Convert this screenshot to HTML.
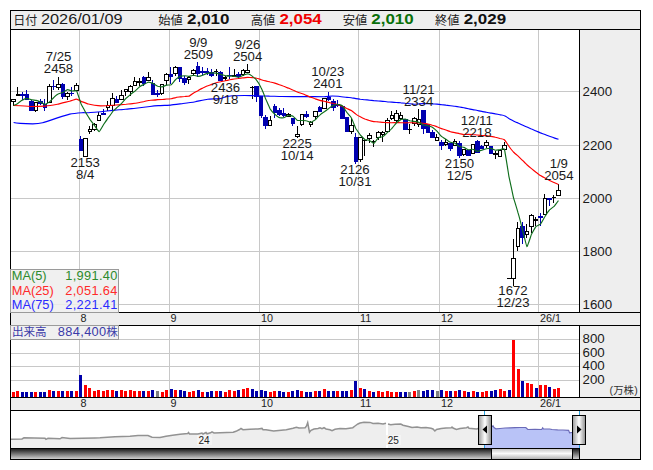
<!DOCTYPE html>
<html lang="ja"><head><meta charset="utf-8"><title>株価チャート</title>
<style>html,body{margin:0;padding:0;background:#fff}body{width:653px;height:470px;overflow:hidden}svg{display:block}text{font-family:"Liberation Sans","Noto Sans CJK JP",sans-serif}</style></head><body>
<svg width="653" height="470" viewBox="0 0 653 470">
<defs>
<linearGradient id="hg" x1="0" x2="1" y1="0" y2="0"><stop offset="0" stop-color="#9a9a9a"/><stop offset="0.5" stop-color="#ffffff"/><stop offset="1" stop-color="#8c8c8c"/></linearGradient>
<linearGradient id="tg" x1="0" x2="0" y1="0" y2="1"><stop offset="0" stop-color="#1e1e1e"/><stop offset="1" stop-color="#d0d0d0"/></linearGradient>
<linearGradient id="th" x1="0" x2="0" y1="0" y2="1"><stop offset="0" stop-color="#c8c8c8"/><stop offset="0.45" stop-color="#fafafa"/><stop offset="1" stop-color="#b4b4b4"/></linearGradient>
</defs>
<rect width="653" height="470" fill="#fff"/>
<g shape-rendering="crispEdges">
<rect x="10" y="10" width="631" height="20" fill="#eee"/>
<rect x="579" y="29" width="62" height="431" fill="#eee"/>
<rect x="10" y="312" width="631" height="14" fill="#eee"/>
<rect x="10" y="397" width="631" height="14" fill="#eee"/>
<rect x="79" y="30" width="1" height="282" fill="#c8c8c8"/>
<rect x="79" y="326" width="1" height="71" fill="#c8c8c8"/>
<rect x="169" y="30" width="1" height="282" fill="#c8c8c8"/>
<rect x="169" y="326" width="1" height="71" fill="#c8c8c8"/>
<rect x="259" y="30" width="1" height="282" fill="#c8c8c8"/>
<rect x="259" y="326" width="1" height="71" fill="#c8c8c8"/>
<rect x="358" y="30" width="1" height="282" fill="#c8c8c8"/>
<rect x="358" y="326" width="1" height="71" fill="#c8c8c8"/>
<rect x="439" y="30" width="1" height="282" fill="#c8c8c8"/>
<rect x="439" y="326" width="1" height="71" fill="#c8c8c8"/>
<rect x="538" y="30" width="1" height="282" fill="#c8c8c8"/>
<rect x="538" y="326" width="1" height="71" fill="#c8c8c8"/>
<rect x="11" y="91" width="568" height="1" fill="#c8c8c8"/>
<rect x="11" y="145" width="568" height="1" fill="#c8c8c8"/>
<rect x="11" y="198" width="568" height="1" fill="#c8c8c8"/>
<rect x="11" y="251" width="568" height="1" fill="#c8c8c8"/>
<rect x="11" y="304" width="568" height="1" fill="#c8c8c8"/>
<rect x="11" y="339" width="568" height="1" fill="#c8c8c8"/>
<rect x="11" y="353" width="568" height="1" fill="#c8c8c8"/>
<rect x="11" y="366" width="568" height="1" fill="#c8c8c8"/>
<rect x="11" y="380" width="568" height="1" fill="#c8c8c8"/>
</g>
<g shape-rendering="crispEdges">
<rect x="13" y="99" width="1" height="7" fill="#000"/>
<rect x="11" y="99" width="5" height="3" fill="#000"/>
<rect x="12" y="100" width="3" height="1" fill="#fff"/>
<rect x="17" y="87" width="1" height="9" fill="#000"/>
<rect x="16" y="94" width="4" height="2" fill="#000"/>
<rect x="22" y="92" width="1" height="8" fill="#0000b0"/>
<rect x="20" y="94" width="5" height="2" fill="#0000b0"/>
<rect x="26" y="90" width="1" height="10" fill="#0000b0"/>
<rect x="25" y="94" width="4" height="6" fill="#0000b0"/>
<rect x="31" y="100" width="1" height="11" fill="#0000b0"/>
<rect x="29" y="101" width="5" height="10" fill="#0000b0"/>
<rect x="35" y="102" width="1" height="10" fill="#000"/>
<rect x="34" y="102" width="4" height="9" fill="#000"/>
<rect x="35" y="103" width="2" height="7" fill="#fff"/>
<rect x="40" y="99" width="1" height="6" fill="#0000b0"/>
<rect x="38" y="101" width="5" height="3" fill="#0000b0"/>
<rect x="44" y="99" width="1" height="12" fill="#0000b0"/>
<rect x="43" y="104" width="4" height="4" fill="#0000b0"/>
<rect x="49" y="84" width="1" height="19" fill="#000"/>
<rect x="47" y="86" width="5" height="17" fill="#000"/>
<rect x="48" y="87" width="3" height="15" fill="#fff"/>
<rect x="53" y="80" width="1" height="10" fill="#0000b0"/>
<rect x="52" y="86" width="4" height="1" fill="#0000b0"/>
<rect x="58" y="77" width="1" height="13" fill="#000"/>
<rect x="56" y="84" width="5" height="4" fill="#000"/>
<rect x="57" y="85" width="3" height="2" fill="#fff"/>
<rect x="62" y="83" width="1" height="16" fill="#0000b0"/>
<rect x="61" y="84" width="4" height="13" fill="#0000b0"/>
<rect x="67" y="92" width="1" height="8" fill="#000"/>
<rect x="65" y="93" width="5" height="4" fill="#000"/>
<rect x="66" y="94" width="3" height="2" fill="#fff"/>
<rect x="71" y="87" width="1" height="9" fill="#0000b0"/>
<rect x="70" y="93" width="4" height="1" fill="#0000b0"/>
<rect x="76" y="83" width="1" height="8" fill="#000"/>
<rect x="74" y="85" width="5" height="6" fill="#000"/>
<rect x="75" y="86" width="3" height="4" fill="#fff"/>
<rect x="80" y="136" width="1" height="15" fill="#0000b0"/>
<rect x="79" y="139" width="4" height="12" fill="#0000b0"/>
<rect x="85" y="138" width="1" height="19" fill="#000"/>
<rect x="83" y="138" width="5" height="19" fill="#000"/>
<rect x="84" y="139" width="3" height="17" fill="#fff"/>
<rect x="89" y="126" width="1" height="8" fill="#000"/>
<rect x="88" y="129" width="4" height="3" fill="#000"/>
<rect x="89" y="130" width="2" height="1" fill="#fff"/>
<rect x="94" y="123" width="1" height="8" fill="#000"/>
<rect x="92" y="124" width="5" height="6" fill="#000"/>
<rect x="93" y="125" width="3" height="4" fill="#fff"/>
<rect x="98" y="112" width="1" height="9" fill="#000"/>
<rect x="97" y="115" width="4" height="6" fill="#000"/>
<rect x="98" y="116" width="2" height="4" fill="#fff"/>
<rect x="103" y="109" width="1" height="6" fill="#0000b0"/>
<rect x="101" y="113" width="5" height="2" fill="#0000b0"/>
<rect x="107" y="101" width="1" height="10" fill="#000"/>
<rect x="106" y="105" width="4" height="3" fill="#000"/>
<rect x="107" y="106" width="2" height="1" fill="#fff"/>
<rect x="112" y="93" width="1" height="17" fill="#000"/>
<rect x="110" y="98" width="5" height="8" fill="#000"/>
<rect x="111" y="99" width="3" height="6" fill="#fff"/>
<rect x="116" y="96" width="1" height="7" fill="#0000b0"/>
<rect x="115" y="99" width="4" height="4" fill="#0000b0"/>
<rect x="121" y="90" width="1" height="10" fill="#000"/>
<rect x="119" y="95" width="5" height="5" fill="#000"/>
<rect x="120" y="96" width="3" height="3" fill="#fff"/>
<rect x="125" y="89" width="1" height="7" fill="#000"/>
<rect x="124" y="89" width="4" height="3" fill="#000"/>
<rect x="125" y="90" width="2" height="1" fill="#fff"/>
<rect x="130" y="85" width="1" height="11" fill="#000"/>
<rect x="128" y="86" width="5" height="6" fill="#000"/>
<rect x="129" y="87" width="3" height="4" fill="#fff"/>
<rect x="134" y="77" width="1" height="9" fill="#000"/>
<rect x="133" y="81" width="4" height="5" fill="#000"/>
<rect x="134" y="82" width="2" height="3" fill="#fff"/>
<rect x="139" y="78" width="1" height="8" fill="#000"/>
<rect x="137" y="81" width="5" height="2" fill="#000"/>
<rect x="143" y="76" width="1" height="10" fill="#0000b0"/>
<rect x="142" y="77" width="4" height="7" fill="#0000b0"/>
<rect x="148" y="72" width="1" height="9" fill="#000"/>
<rect x="146" y="77" width="5" height="4" fill="#000"/>
<rect x="147" y="78" width="3" height="2" fill="#fff"/>
<rect x="152" y="80" width="1" height="15" fill="#0000b0"/>
<rect x="151" y="83" width="4" height="12" fill="#0000b0"/>
<rect x="157" y="90" width="1" height="7" fill="#0000b0"/>
<rect x="155" y="93" width="5" height="2" fill="#0000b0"/>
<rect x="161" y="84" width="1" height="11" fill="#000"/>
<rect x="160" y="84" width="4" height="10" fill="#000"/>
<rect x="161" y="85" width="2" height="8" fill="#fff"/>
<rect x="166" y="73" width="1" height="12" fill="#000"/>
<rect x="164" y="74" width="5" height="7" fill="#000"/>
<rect x="165" y="75" width="3" height="5" fill="#fff"/>
<rect x="170" y="67" width="1" height="17" fill="#0000b0"/>
<rect x="169" y="74" width="4" height="3" fill="#0000b0"/>
<rect x="175" y="66" width="1" height="10" fill="#000"/>
<rect x="173" y="67" width="5" height="7" fill="#000"/>
<rect x="174" y="68" width="3" height="5" fill="#fff"/>
<rect x="179" y="67" width="1" height="15" fill="#0000b0"/>
<rect x="178" y="67" width="4" height="12" fill="#0000b0"/>
<rect x="184" y="76" width="1" height="9" fill="#0000b0"/>
<rect x="182" y="78" width="5" height="5" fill="#0000b0"/>
<rect x="188" y="76" width="1" height="8" fill="#000"/>
<rect x="187" y="77" width="4" height="3" fill="#000"/>
<rect x="188" y="78" width="2" height="1" fill="#fff"/>
<rect x="193" y="69" width="1" height="7" fill="#000"/>
<rect x="191" y="70" width="5" height="4" fill="#000"/>
<rect x="192" y="71" width="3" height="2" fill="#fff"/>
<rect x="197" y="62" width="1" height="15" fill="#0000b0"/>
<rect x="196" y="66" width="4" height="8" fill="#0000b0"/>
<rect x="202" y="67" width="1" height="8" fill="#0000b0"/>
<rect x="200" y="71" width="5" height="2" fill="#0000b0"/>
<rect x="207" y="68" width="1" height="7" fill="#0000b0"/>
<rect x="205" y="71" width="4" height="2" fill="#0000b0"/>
<rect x="211" y="69" width="1" height="8" fill="#0000b0"/>
<rect x="209" y="72" width="5" height="4" fill="#0000b0"/>
<rect x="216" y="69" width="1" height="7" fill="#000"/>
<rect x="214" y="71" width="4" height="1" fill="#000"/>
<rect x="220" y="71" width="1" height="10" fill="#0000b0"/>
<rect x="218" y="72" width="5" height="9" fill="#0000b0"/>
<rect x="225" y="76" width="1" height="5" fill="#000"/>
<rect x="223" y="77" width="4" height="2" fill="#000"/>
<rect x="229" y="67" width="1" height="12" fill="#0000b0"/>
<rect x="227" y="75" width="5" height="1" fill="#0000b0"/>
<rect x="234" y="69" width="1" height="8" fill="#000"/>
<rect x="232" y="75" width="4" height="2" fill="#000"/>
<rect x="238" y="72" width="1" height="7" fill="#0000b0"/>
<rect x="236" y="74" width="5" height="3" fill="#0000b0"/>
<rect x="243" y="69" width="1" height="7" fill="#000"/>
<rect x="241" y="70" width="4" height="5" fill="#000"/>
<rect x="242" y="71" width="2" height="3" fill="#fff"/>
<rect x="247" y="64" width="1" height="9" fill="#000"/>
<rect x="245" y="70" width="5" height="3" fill="#000"/>
<rect x="246" y="71" width="3" height="1" fill="#fff"/>
<rect x="252" y="86" width="1" height="13" fill="#000"/>
<rect x="250" y="87" width="4" height="1" fill="#000"/>
<rect x="256" y="86" width="1" height="16" fill="#0000b0"/>
<rect x="254" y="86" width="5" height="11" fill="#0000b0"/>
<rect x="261" y="96" width="1" height="22" fill="#0000b0"/>
<rect x="259" y="96" width="4" height="20" fill="#0000b0"/>
<rect x="265" y="115" width="1" height="14" fill="#0000b0"/>
<rect x="263" y="117" width="5" height="9" fill="#0000b0"/>
<rect x="270" y="116" width="1" height="10" fill="#000"/>
<rect x="268" y="120" width="4" height="6" fill="#000"/>
<rect x="269" y="121" width="2" height="4" fill="#fff"/>
<rect x="274" y="104" width="1" height="14" fill="#0000b0"/>
<rect x="273" y="106" width="4" height="7" fill="#0000b0"/>
<rect x="279" y="108" width="1" height="8" fill="#0000b0"/>
<rect x="277" y="110" width="5" height="5" fill="#0000b0"/>
<rect x="283" y="108" width="1" height="9" fill="#0000b0"/>
<rect x="282" y="113" width="4" height="3" fill="#0000b0"/>
<rect x="288" y="113" width="1" height="4" fill="#000"/>
<rect x="286" y="114" width="5" height="3" fill="#000"/>
<rect x="287" y="115" width="3" height="1" fill="#fff"/>
<rect x="292" y="118" width="1" height="8" fill="#0000b0"/>
<rect x="291" y="118" width="4" height="6" fill="#0000b0"/>
<rect x="297" y="126" width="1" height="12" fill="#000"/>
<rect x="295" y="134" width="5" height="3" fill="#000"/>
<rect x="296" y="135" width="3" height="1" fill="#fff"/>
<rect x="301" y="114" width="1" height="12" fill="#000"/>
<rect x="300" y="114" width="4" height="11" fill="#000"/>
<rect x="301" y="115" width="2" height="9" fill="#fff"/>
<rect x="306" y="111" width="1" height="7" fill="#0000b0"/>
<rect x="304" y="114" width="5" height="3" fill="#0000b0"/>
<rect x="310" y="121" width="1" height="6" fill="#000"/>
<rect x="309" y="122" width="4" height="3" fill="#000"/>
<rect x="310" y="123" width="2" height="1" fill="#fff"/>
<rect x="315" y="111" width="1" height="8" fill="#000"/>
<rect x="313" y="111" width="5" height="6" fill="#000"/>
<rect x="314" y="112" width="3" height="4" fill="#fff"/>
<rect x="319" y="106" width="1" height="6" fill="#0000b0"/>
<rect x="318" y="107" width="4" height="5" fill="#0000b0"/>
<rect x="324" y="98" width="1" height="11" fill="#000"/>
<rect x="322" y="98" width="5" height="11" fill="#000"/>
<rect x="323" y="99" width="3" height="9" fill="#fff"/>
<rect x="328" y="92" width="1" height="9" fill="#0000b0"/>
<rect x="327" y="97" width="4" height="3" fill="#0000b0"/>
<rect x="333" y="99" width="1" height="12" fill="#0000b0"/>
<rect x="331" y="101" width="5" height="7" fill="#0000b0"/>
<rect x="337" y="100" width="1" height="7" fill="#0000b0"/>
<rect x="336" y="104" width="4" height="2" fill="#0000b0"/>
<rect x="342" y="106" width="1" height="13" fill="#0000b0"/>
<rect x="340" y="106" width="5" height="13" fill="#0000b0"/>
<rect x="346" y="117" width="1" height="15" fill="#0000b0"/>
<rect x="345" y="117" width="4" height="15" fill="#0000b0"/>
<rect x="351" y="118" width="1" height="16" fill="#000"/>
<rect x="349" y="125" width="5" height="7" fill="#000"/>
<rect x="350" y="126" width="3" height="5" fill="#fff"/>
<rect x="355" y="133" width="1" height="31" fill="#0000b0"/>
<rect x="354" y="137" width="4" height="25" fill="#0000b0"/>
<rect x="360" y="137" width="1" height="25" fill="#000"/>
<rect x="358" y="137" width="5" height="23" fill="#000"/>
<rect x="359" y="138" width="3" height="21" fill="#fff"/>
<rect x="364" y="140" width="1" height="16" fill="#000"/>
<rect x="363" y="140" width="4" height="1" fill="#000"/>
<rect x="369" y="133" width="1" height="10" fill="#000"/>
<rect x="367" y="135" width="5" height="4" fill="#000"/>
<rect x="368" y="136" width="3" height="2" fill="#fff"/>
<rect x="373" y="140" width="1" height="7" fill="#000"/>
<rect x="372" y="141" width="4" height="1" fill="#000"/>
<rect x="378" y="131" width="1" height="9" fill="#000"/>
<rect x="376" y="132" width="5" height="6" fill="#000"/>
<rect x="377" y="133" width="3" height="4" fill="#fff"/>
<rect x="382" y="131" width="1" height="11" fill="#000"/>
<rect x="381" y="132" width="4" height="3" fill="#000"/>
<rect x="382" y="133" width="2" height="1" fill="#fff"/>
<rect x="387" y="118" width="1" height="14" fill="#000"/>
<rect x="385" y="120" width="5" height="12" fill="#000"/>
<rect x="386" y="121" width="3" height="10" fill="#fff"/>
<rect x="391" y="111" width="1" height="9" fill="#000"/>
<rect x="390" y="115" width="4" height="4" fill="#000"/>
<rect x="391" y="116" width="2" height="2" fill="#fff"/>
<rect x="396" y="110" width="1" height="12" fill="#000"/>
<rect x="394" y="113" width="5" height="8" fill="#000"/>
<rect x="395" y="114" width="3" height="6" fill="#fff"/>
<rect x="400" y="112" width="1" height="8" fill="#000"/>
<rect x="399" y="115" width="4" height="4" fill="#000"/>
<rect x="400" y="116" width="2" height="2" fill="#fff"/>
<rect x="405" y="119" width="1" height="11" fill="#0000b0"/>
<rect x="403" y="119" width="5" height="11" fill="#0000b0"/>
<rect x="409" y="124" width="1" height="10" fill="#000"/>
<rect x="408" y="129" width="4" height="1" fill="#000"/>
<rect x="414" y="117" width="1" height="9" fill="#000"/>
<rect x="412" y="118" width="5" height="6" fill="#000"/>
<rect x="413" y="119" width="3" height="4" fill="#fff"/>
<rect x="418" y="109" width="1" height="18" fill="#000"/>
<rect x="417" y="119" width="4" height="6" fill="#000"/>
<rect x="418" y="120" width="2" height="4" fill="#fff"/>
<rect x="423" y="110" width="1" height="24" fill="#0000b0"/>
<rect x="421" y="110" width="5" height="19" fill="#0000b0"/>
<rect x="427" y="124" width="1" height="9" fill="#0000b0"/>
<rect x="426" y="124" width="4" height="9" fill="#0000b0"/>
<rect x="432" y="130" width="1" height="8" fill="#0000b0"/>
<rect x="430" y="132" width="5" height="6" fill="#0000b0"/>
<rect x="436" y="134" width="1" height="7" fill="#000"/>
<rect x="435" y="137" width="4" height="4" fill="#000"/>
<rect x="436" y="138" width="2" height="2" fill="#fff"/>
<rect x="441" y="140" width="1" height="10" fill="#0000b0"/>
<rect x="439" y="142" width="5" height="4" fill="#0000b0"/>
<rect x="445" y="139" width="1" height="7" fill="#000"/>
<rect x="444" y="142" width="4" height="3" fill="#000"/>
<rect x="445" y="143" width="2" height="1" fill="#fff"/>
<rect x="450" y="143" width="1" height="8" fill="#0000b0"/>
<rect x="448" y="143" width="5" height="6" fill="#0000b0"/>
<rect x="454" y="139" width="1" height="7" fill="#000"/>
<rect x="453" y="141" width="4" height="5" fill="#000"/>
<rect x="454" y="142" width="2" height="3" fill="#fff"/>
<rect x="459" y="141" width="1" height="17" fill="#0000b0"/>
<rect x="457" y="143" width="5" height="13" fill="#0000b0"/>
<rect x="463" y="149" width="1" height="7" fill="#000"/>
<rect x="462" y="149" width="4" height="6" fill="#000"/>
<rect x="463" y="150" width="2" height="4" fill="#fff"/>
<rect x="468" y="150" width="1" height="6" fill="#0000b0"/>
<rect x="466" y="150" width="5" height="6" fill="#0000b0"/>
<rect x="472" y="144" width="1" height="10" fill="#000"/>
<rect x="471" y="144" width="4" height="10" fill="#000"/>
<rect x="472" y="145" width="2" height="8" fill="#fff"/>
<rect x="477" y="140" width="1" height="13" fill="#0000b0"/>
<rect x="475" y="141" width="5" height="12" fill="#0000b0"/>
<rect x="481" y="145" width="1" height="4" fill="#0000b0"/>
<rect x="480" y="146" width="4" height="3" fill="#0000b0"/>
<rect x="486" y="140" width="1" height="8" fill="#000"/>
<rect x="484" y="142" width="5" height="4" fill="#000"/>
<rect x="485" y="143" width="3" height="2" fill="#fff"/>
<rect x="490" y="146" width="1" height="8" fill="#0000b0"/>
<rect x="489" y="146" width="4" height="8" fill="#0000b0"/>
<rect x="495" y="151" width="1" height="8" fill="#000"/>
<rect x="493" y="153" width="5" height="2" fill="#000"/>
<rect x="499" y="150" width="1" height="7" fill="#000"/>
<rect x="498" y="150" width="4" height="7" fill="#000"/>
<rect x="499" y="151" width="2" height="5" fill="#fff"/>
<rect x="504" y="142" width="1" height="8" fill="#000"/>
<rect x="502" y="145" width="5" height="5" fill="#000"/>
<rect x="503" y="146" width="3" height="3" fill="#fff"/>
<rect x="507" y="278" width="4" height="1" fill="#000"/>
<rect x="513" y="239" width="1" height="47" fill="#000"/>
<rect x="511" y="258" width="5" height="21" fill="#000"/>
<rect x="512" y="259" width="3" height="19" fill="#fff"/>
<rect x="517" y="222" width="1" height="29" fill="#000"/>
<rect x="516" y="228" width="4" height="19" fill="#000"/>
<rect x="517" y="229" width="2" height="17" fill="#fff"/>
<rect x="522" y="222" width="1" height="22" fill="#0000b0"/>
<rect x="520" y="226" width="5" height="12" fill="#0000b0"/>
<rect x="526" y="224" width="1" height="14" fill="#000"/>
<rect x="525" y="231" width="4" height="4" fill="#000"/>
<rect x="526" y="232" width="2" height="2" fill="#fff"/>
<rect x="531" y="214" width="1" height="19" fill="#000"/>
<rect x="529" y="215" width="5" height="12" fill="#000"/>
<rect x="530" y="216" width="3" height="10" fill="#fff"/>
<rect x="535" y="217" width="1" height="9" fill="#000"/>
<rect x="534" y="219" width="4" height="2" fill="#000"/>
<rect x="540" y="213" width="1" height="13" fill="#0000b0"/>
<rect x="538" y="216" width="5" height="2" fill="#0000b0"/>
<rect x="544" y="194" width="1" height="21" fill="#000"/>
<rect x="543" y="198" width="4" height="17" fill="#000"/>
<rect x="544" y="199" width="2" height="15" fill="#fff"/>
<rect x="549" y="198" width="1" height="8" fill="#0000b0"/>
<rect x="547" y="198" width="5" height="2" fill="#0000b0"/>
<rect x="553" y="195" width="1" height="8" fill="#000"/>
<rect x="552" y="197" width="4" height="1" fill="#000"/>
<rect x="558" y="184" width="1" height="12" fill="#000"/>
<rect x="556" y="190" width="5" height="6" fill="#000"/>
<rect x="557" y="191" width="3" height="4" fill="#fff"/>
</g>
<g fill="none" stroke-width="1.15" stroke-linejoin="round">
<path d="M13.6 122.5 C14.0 122.6 19.0 123.3 20.3 123.4 C21.6 123.5 31.2 123.8 32.7 123.8 C34.2 123.8 41.0 123.2 42.6 122.8 C44.2 122.4 55.6 118.5 57.4 117.9 C59.2 117.3 68.1 114.4 69.7 114.1 C71.3 113.8 80.9 112.8 82.1 112.7 C83.3 112.6 87.1 112.8 88.3 112.7 C89.5 112.6 99.1 111.9 100.7 111.7 C102.3 111.5 111.4 110.6 113.0 110.4 C114.6 110.2 123.8 109.4 125.4 109.2 C127.0 109.0 136.1 108.2 137.7 108.0 C139.3 107.8 148.6 106.7 150.0 106.5 C151.4 106.3 156.9 105.7 158.3 105.6 C159.7 105.5 169.1 105.2 170.7 105.1 C172.3 105.0 181.4 103.7 183.0 103.5 C184.6 103.3 193.8 102.0 195.4 101.7 C197.0 101.4 206.1 99.4 207.7 99.2 C209.3 99.0 218.9 98.8 220.1 98.6 C221.3 98.4 225.4 96.9 226.2 96.7 C227.0 96.5 231.1 95.9 232.3 95.8 C233.5 95.7 243.1 95.5 244.7 95.5 C246.3 95.5 255.4 95.8 257.0 95.8 C258.6 95.8 267.8 96.1 269.4 96.1 C271.0 96.1 279.3 96.5 281.7 96.5 C284.1 96.5 302.6 96.6 305.4 96.6 C308.2 96.6 322.1 96.8 323.9 96.8 C325.7 96.8 331.2 96.0 332.2 96.0 C333.2 96.0 337.3 96.2 338.3 96.3 C339.3 96.4 345.9 97.3 346.8 97.4 C347.7 97.5 350.7 97.6 351.3 97.7 C351.9 97.8 355.2 98.5 355.8 98.6 C356.4 98.7 359.7 99.1 360.3 99.2 C360.9 99.2 364.2 99.7 364.8 99.7 C365.4 99.8 368.7 100.0 369.3 100.1 C369.9 100.1 373.2 100.5 373.8 100.6 C374.4 100.6 377.7 100.9 378.3 101.0 C378.9 101.0 382.2 101.3 382.8 101.3 C383.4 101.4 386.7 101.7 387.3 101.8 C387.9 101.8 391.2 102.1 391.8 102.1 C392.4 102.2 395.7 102.5 396.3 102.5 C396.9 102.6 400.3 102.7 400.9 102.8 C401.5 102.8 404.8 103.2 405.4 103.3 C406.0 103.3 409.3 103.7 409.9 103.7 C410.5 103.8 413.8 104.2 414.4 104.2 C415.0 104.2 418.3 103.8 418.9 103.8 C419.5 103.7 422.8 103.6 423.4 103.6 C424.0 103.6 427.3 103.7 427.9 103.7 C428.5 103.7 431.8 103.8 432.4 103.9 C433.0 103.9 436.3 104.1 436.9 104.1 C437.5 104.2 440.8 104.5 441.4 104.6 C442.0 104.6 445.3 105.0 445.9 105.1 C446.5 105.1 449.8 105.6 450.4 105.7 C451.0 105.8 454.3 106.1 454.9 106.2 C455.5 106.3 458.8 106.9 459.4 107.0 C460.0 107.1 463.3 107.7 463.9 107.8 C464.5 108.0 467.8 108.6 468.4 108.7 C469.0 108.9 472.3 109.5 472.9 109.6 C473.5 109.7 476.8 110.4 477.4 110.5 C478.0 110.7 481.3 111.3 481.9 111.4 C482.5 111.5 485.8 112.2 486.4 112.3 C487.0 112.4 490.3 113.0 490.9 113.1 C491.5 113.2 494.8 113.7 495.4 113.9 C496.0 114.0 499.3 114.6 499.9 114.7 C500.5 114.9 503.8 115.4 504.4 115.7 C505.0 115.9 508.3 118.0 508.9 118.4 C509.5 118.7 512.8 120.6 513.4 120.9 C514.0 121.2 517.3 122.7 517.9 122.9 C518.5 123.2 521.8 124.7 522.4 125.0 C523.0 125.3 526.3 126.8 526.9 127.0 C527.5 127.3 530.9 128.7 531.5 129.0 C532.1 129.2 535.4 130.7 536.0 130.9 C536.6 131.2 539.9 132.6 540.5 132.9 C541.1 133.1 544.4 134.3 545.0 134.5 C545.6 134.8 548.9 136.0 549.5 136.2 C550.1 136.4 553.4 137.7 554.0 137.9 C554.6 138.1 558.2 139.2 558.5 139.3" stroke="#0000ff"/>
<path d="M13.6 105.5 C14.0 105.5 19.0 105.7 20.3 105.8 C21.6 105.9 31.1 106.5 32.7 106.5 C34.3 106.5 43.4 106.2 45.0 106.1 C46.6 106.0 55.8 104.6 57.4 104.3 C59.0 104.0 68.4 101.5 69.7 101.2 C71.0 100.9 75.7 99.1 76.5 99.1 C77.3 99.1 81.4 101.5 82.2 101.8 C83.0 102.1 87.5 103.8 88.3 104.0 C89.1 104.2 93.7 105.2 94.5 105.3 C95.3 105.4 99.5 105.8 100.7 105.8 C101.9 105.8 111.6 105.4 113.0 105.3 C114.4 105.2 120.8 104.6 121.6 104.6 C122.5 104.5 125.5 104.2 126.1 104.2 C126.7 104.1 130.0 103.9 130.6 103.8 C131.2 103.8 134.5 103.4 135.1 103.3 C135.7 103.2 139.0 102.7 139.6 102.5 C140.2 102.4 143.6 101.6 144.2 101.5 C144.8 101.3 148.1 100.6 148.7 100.5 C149.3 100.4 152.6 100.2 153.2 100.1 C153.8 100.1 157.1 99.7 157.7 99.6 C158.3 99.6 161.6 99.6 162.2 99.5 C162.8 99.5 166.1 99.1 166.7 99.0 C167.3 99.0 170.6 98.8 171.2 98.7 C171.8 98.6 175.1 97.7 175.7 97.6 C176.3 97.4 179.6 97.0 180.2 96.9 C180.8 96.9 184.1 96.5 184.7 96.5 C185.3 96.4 188.6 96.4 189.2 96.1 C189.8 95.9 193.1 93.3 193.7 92.9 C194.3 92.6 197.6 90.7 198.2 90.4 C198.8 90.0 202.1 88.3 202.7 88.1 C203.3 87.8 206.6 86.3 207.2 86.0 C207.8 85.8 211.1 84.6 211.7 84.4 C212.3 84.2 215.6 82.9 216.2 82.7 C216.8 82.5 220.1 81.8 220.7 81.7 C221.3 81.5 224.6 81.0 225.2 80.8 C225.8 80.7 229.1 79.9 229.7 79.7 C230.3 79.6 233.6 79.1 234.2 79.0 C234.8 78.9 238.1 78.5 238.7 78.5 C239.3 78.4 242.6 77.9 243.2 77.8 C243.8 77.8 247.1 77.4 247.7 77.4 C248.3 77.4 251.6 77.6 252.2 77.6 C252.8 77.7 256.1 78.0 256.7 78.2 C257.3 78.3 260.6 79.5 261.2 79.7 C261.8 79.9 265.1 80.8 265.7 80.9 C266.3 81.1 269.6 81.8 270.2 82.0 C270.8 82.1 274.2 82.9 274.8 83.1 C275.4 83.3 278.7 84.5 279.3 84.7 C279.9 84.9 283.2 86.0 283.8 86.3 C284.4 86.5 287.7 87.9 288.3 88.1 C288.9 88.4 292.2 89.7 292.8 90.0 C293.4 90.2 296.7 91.8 297.3 92.0 C297.9 92.3 301.2 93.3 301.8 93.5 C302.4 93.7 305.7 95.1 306.3 95.4 C306.9 95.6 310.2 97.1 310.8 97.3 C311.4 97.5 314.7 98.6 315.3 98.9 C315.9 99.1 319.2 100.2 319.8 100.4 C320.4 100.6 323.7 101.2 324.3 101.3 C324.9 101.5 328.2 102.3 328.8 102.4 C329.4 102.6 332.7 103.3 333.3 103.5 C333.9 103.6 337.2 104.4 337.8 104.6 C338.4 104.8 341.7 106.0 342.3 106.3 C342.9 106.6 346.2 108.3 346.8 108.5 C347.4 108.8 350.7 110.1 351.3 110.5 C351.9 110.9 355.2 113.7 355.8 114.1 C356.4 114.6 359.7 116.5 360.3 116.8 C360.9 117.1 364.2 118.7 364.8 119.0 C365.4 119.2 368.7 120.4 369.3 120.5 C369.9 120.7 373.2 121.5 373.8 121.6 C374.4 121.7 377.7 121.8 378.3 121.9 C378.9 121.9 382.2 122.3 382.8 122.3 C383.4 122.4 386.7 122.6 387.3 122.6 C387.9 122.7 391.2 122.7 391.8 122.7 C392.4 122.7 395.7 122.6 396.3 122.6 C396.9 122.6 400.3 122.7 400.9 122.7 C401.5 122.7 404.8 122.9 405.4 122.9 C406.0 122.9 409.3 122.7 409.9 122.7 C410.5 122.7 413.8 122.9 414.4 122.9 C415.0 122.9 418.3 123.0 418.9 123.0 C419.5 123.0 422.8 123.2 423.4 123.2 C424.0 123.3 427.3 124.0 427.9 124.1 C428.5 124.2 431.8 125.0 432.4 125.2 C433.0 125.3 436.3 126.5 436.9 126.7 C437.5 127.0 440.8 128.4 441.4 128.6 C442.0 128.8 445.3 129.8 445.9 130.0 C446.5 130.2 449.8 131.5 450.4 131.7 C451.0 131.9 454.3 132.5 454.9 132.6 C455.5 132.8 458.8 133.4 459.4 133.6 C460.0 133.7 463.3 134.5 463.9 134.5 C464.5 134.6 467.8 134.3 468.4 134.3 C469.0 134.3 472.3 134.5 472.9 134.6 C473.5 134.6 476.8 135.0 477.4 135.0 C478.0 135.1 481.3 135.5 481.9 135.5 C482.5 135.6 485.8 135.5 486.4 135.6 C487.0 135.6 490.3 136.3 490.9 136.4 C491.5 136.5 494.8 137.1 495.4 137.3 C496.0 137.4 499.3 138.3 499.9 138.5 C500.5 138.6 503.8 139.2 504.4 139.7 C505.0 140.2 508.3 145.4 508.9 146.2 C509.5 147.1 512.8 151.3 513.4 152.0 C514.0 152.6 517.3 155.4 517.9 155.9 C518.5 156.5 521.8 159.7 522.4 160.3 C523.0 160.8 526.3 164.2 526.9 164.8 C527.5 165.3 530.9 168.1 531.5 168.6 C532.1 169.1 535.4 171.8 536.0 172.3 C536.6 172.7 539.9 175.2 540.5 175.6 C541.1 176.0 544.4 177.8 545.0 178.1 C545.6 178.4 548.9 180.2 549.5 180.5 C550.1 180.8 553.4 182.3 554.0 182.6 C554.6 182.9 558.2 184.4 558.5 184.5" stroke="#ff0000"/>
<path d="M13.6 105.5 C13.8 105.4 16.2 104.5 16.6 104.3 C17.0 104.1 21.1 100.9 21.6 100.6 C22.1 100.3 26.0 98.3 26.5 98.3 C27.0 98.3 31.1 99.7 31.6 99.8 C32.0 99.9 35.6 100.3 36.1 100.4 C36.5 100.5 40.1 101.8 40.6 102.0 C41.0 102.2 44.6 104.4 45.1 104.4 C45.5 104.4 49.1 102.3 49.6 101.9 C50.0 101.6 53.6 97.6 54.1 97.2 C54.5 96.8 58.1 94.0 58.6 93.8 C59.0 93.5 62.6 92.5 63.1 92.3 C63.5 92.1 67.1 89.6 67.6 89.6 C68.0 89.5 71.6 91.0 72.1 91.0 C72.5 91.1 76.1 90.2 76.6 90.8 C77.0 91.5 80.7 102.9 81.1 104.0 C81.6 105.0 85.2 111.6 85.6 112.4 C86.1 113.2 89.7 119.0 90.1 119.6 C90.6 120.3 94.2 125.1 94.6 125.7 C95.1 126.3 98.7 131.7 99.1 131.7 C99.6 131.6 103.2 125.1 103.6 124.5 C104.1 123.8 107.7 118.6 108.1 117.9 C108.6 117.3 112.2 112.3 112.6 111.7 C113.1 111.2 116.7 107.9 117.1 107.4 C117.6 107.0 121.2 103.7 121.6 103.3 C122.1 102.8 125.7 98.7 126.1 98.2 C126.6 97.8 130.2 94.8 130.6 94.4 C131.1 94.0 134.7 91.3 135.1 91.0 C135.6 90.6 139.2 87.0 139.6 86.7 C140.1 86.3 143.7 84.6 144.2 84.4 C144.6 84.1 148.2 82.1 148.7 82.1 C149.1 82.1 152.7 83.4 153.2 83.6 C153.6 83.8 157.2 86.0 157.7 86.2 C158.1 86.3 161.7 86.9 162.2 86.9 C162.6 86.8 166.2 85.2 166.7 85.1 C167.1 85.0 170.7 85.0 171.2 84.8 C171.6 84.5 175.2 79.9 175.7 79.5 C176.1 79.0 179.7 76.4 180.2 76.2 C180.6 76.0 184.2 75.7 184.7 75.7 C185.1 75.7 188.7 76.4 189.2 76.4 C189.6 76.3 193.2 75.2 193.7 75.2 C194.1 75.2 197.7 76.4 198.2 76.4 C198.6 76.4 202.2 75.4 202.7 75.2 C203.1 75.0 206.8 73.5 207.2 73.4 C207.7 73.2 211.3 72.8 211.7 72.8 C212.2 72.8 215.8 73.0 216.2 73.1 C216.7 73.2 220.3 74.3 220.7 74.4 C221.2 74.5 224.8 75.5 225.2 75.6 C225.7 75.7 229.3 76.1 229.7 76.1 C230.2 76.2 233.8 76.2 234.2 76.3 C234.7 76.3 238.3 77.3 238.7 77.2 C239.2 77.2 242.8 75.4 243.2 75.3 C243.7 75.1 247.3 73.8 247.7 73.8 C248.2 73.9 251.8 75.8 252.2 76.1 C252.7 76.5 256.3 79.8 256.7 80.4 C257.2 81.0 260.8 87.2 261.2 88.1 C261.7 89.1 265.3 98.0 265.7 99.1 C266.2 100.1 269.8 108.3 270.2 109.1 C270.7 109.8 274.3 113.8 274.8 114.2 C275.2 114.6 278.8 117.5 279.3 117.6 C279.7 117.8 283.3 117.7 283.8 117.6 C284.2 117.5 287.8 115.6 288.3 115.5 C288.7 115.4 292.3 115.9 292.8 116.1 C293.2 116.3 296.8 120.1 297.3 120.4 C297.7 120.6 301.3 120.5 301.8 120.5 C302.2 120.5 305.8 120.6 306.3 120.7 C306.7 120.7 310.3 122.3 310.8 122.3 C311.2 122.2 314.8 120.0 315.3 119.7 C315.7 119.3 319.3 115.5 319.8 115.1 C320.2 114.7 323.8 112.1 324.3 111.8 C324.7 111.5 328.3 108.7 328.8 108.4 C329.2 108.1 332.8 105.6 333.3 105.4 C333.7 105.2 337.4 104.2 337.8 104.3 C338.3 104.3 341.9 105.3 342.3 105.7 C342.8 106.1 346.4 111.8 346.8 112.4 C347.3 113.0 350.9 116.9 351.3 117.7 C351.8 118.5 355.4 127.6 355.8 128.5 C356.3 129.4 359.9 134.4 360.3 135.0 C360.8 135.5 364.4 139.2 364.8 139.5 C365.3 139.7 368.9 140.1 369.3 140.3 C369.8 140.5 373.4 143.6 373.8 143.5 C374.3 143.4 377.9 138.1 378.3 137.7 C378.8 137.4 382.4 136.9 382.8 136.6 C383.3 136.4 386.9 133.0 387.3 132.6 C387.8 132.2 391.4 129.0 391.8 128.5 C392.3 128.0 395.9 123.4 396.3 123.0 C396.8 122.5 400.4 119.8 400.9 119.6 C401.3 119.4 404.9 119.0 405.4 119.0 C405.8 119.1 409.4 120.6 409.9 120.8 C410.3 120.9 413.9 121.3 414.4 121.4 C414.8 121.4 418.4 122.2 418.9 122.4 C419.3 122.6 422.9 124.9 423.4 125.0 C423.8 125.2 427.4 125.6 427.9 125.7 C428.3 125.8 431.9 127.0 432.4 127.3 C432.8 127.6 436.4 130.7 436.9 131.2 C437.3 131.6 440.9 136.0 441.4 136.4 C441.8 136.8 445.4 138.9 445.9 139.2 C446.3 139.5 449.9 142.1 450.4 142.3 C450.8 142.5 454.4 142.9 454.9 143.1 C455.3 143.4 458.9 146.3 459.4 146.6 C459.8 146.8 463.4 147.2 463.9 147.4 C464.4 147.6 468.0 149.8 468.4 149.9 C468.9 150.0 472.5 149.1 472.9 149.2 C473.4 149.3 477.0 151.4 477.4 151.4 C477.9 151.5 481.5 150.2 481.9 150.1 C482.4 149.9 486.0 148.8 486.4 148.7 C486.9 148.6 490.5 148.3 490.9 148.4 C491.4 148.5 495.0 150.1 495.4 150.2 C495.9 150.3 499.5 149.8 499.9 149.8 C500.4 149.7 504.0 147.9 504.4 149.2 C504.9 150.5 508.5 173.9 508.9 176.3 C509.4 178.7 513.0 195.5 513.4 197.3 C513.9 199.1 517.5 210.7 517.9 212.4 C518.4 214.0 522.0 227.9 522.4 229.6 C522.9 231.3 526.5 246.5 526.9 246.7 C527.4 247.0 531.0 235.3 531.5 234.3 C531.9 233.3 535.5 227.0 536.0 226.5 C536.4 226.0 540.0 224.6 540.5 224.1 C540.9 223.6 544.5 217.2 545.0 216.5 C545.4 215.8 549.0 210.5 549.5 210.0 C549.9 209.5 553.5 206.9 554.0 206.4 C554.4 205.9 558.2 200.9 558.5 200.6" stroke="#0f6e1c"/>
</g>
<g shape-rendering="crispEdges">
<rect x="12" y="392" width="3" height="5" fill="#ff0000"/>
<rect x="16" y="391" width="3" height="6" fill="#ff0000"/>
<rect x="21" y="392" width="3" height="5" fill="#0000aa"/>
<rect x="25" y="392" width="3" height="5" fill="#0000aa"/>
<rect x="30" y="392" width="3" height="5" fill="#0000aa"/>
<rect x="34" y="392" width="3" height="5" fill="#ff0000"/>
<rect x="39" y="392" width="3" height="5" fill="#0000aa"/>
<rect x="43" y="392" width="3" height="5" fill="#0000aa"/>
<rect x="48" y="390" width="3" height="7" fill="#ff0000"/>
<rect x="52" y="391" width="3" height="6" fill="#0000aa"/>
<rect x="57" y="391" width="3" height="6" fill="#ff0000"/>
<rect x="61" y="391" width="3" height="6" fill="#0000aa"/>
<rect x="66" y="391" width="3" height="6" fill="#ff0000"/>
<rect x="70" y="391" width="3" height="6" fill="#0000aa"/>
<rect x="75" y="391" width="3" height="6" fill="#ff0000"/>
<rect x="79" y="375" width="3" height="22" fill="#0000aa"/>
<rect x="84" y="385" width="3" height="12" fill="#ff0000"/>
<rect x="88" y="388" width="3" height="9" fill="#ff0000"/>
<rect x="93" y="391" width="3" height="6" fill="#ff0000"/>
<rect x="97" y="390" width="3" height="7" fill="#ff0000"/>
<rect x="102" y="391" width="3" height="6" fill="#ff0000"/>
<rect x="106" y="390" width="3" height="7" fill="#ff0000"/>
<rect x="111" y="390" width="3" height="7" fill="#ff0000"/>
<rect x="115" y="391" width="3" height="6" fill="#0000aa"/>
<rect x="120" y="390" width="3" height="7" fill="#ff0000"/>
<rect x="124" y="391" width="3" height="6" fill="#ff0000"/>
<rect x="129" y="390" width="3" height="7" fill="#ff0000"/>
<rect x="133" y="391" width="3" height="6" fill="#ff0000"/>
<rect x="138" y="391" width="3" height="6" fill="#ff0000"/>
<rect x="142" y="391" width="3" height="6" fill="#0000aa"/>
<rect x="147" y="391" width="3" height="6" fill="#ff0000"/>
<rect x="151" y="390" width="3" height="7" fill="#0000aa"/>
<rect x="156" y="391" width="3" height="6" fill="#808080"/>
<rect x="161" y="392" width="3" height="5" fill="#ff0000"/>
<rect x="165" y="390" width="3" height="7" fill="#ff0000"/>
<rect x="170" y="389" width="3" height="8" fill="#0000aa"/>
<rect x="174" y="390" width="3" height="7" fill="#ff0000"/>
<rect x="179" y="390" width="3" height="7" fill="#0000aa"/>
<rect x="183" y="391" width="3" height="6" fill="#0000aa"/>
<rect x="188" y="392" width="3" height="5" fill="#ff0000"/>
<rect x="192" y="391" width="3" height="6" fill="#ff0000"/>
<rect x="197" y="390" width="3" height="7" fill="#0000aa"/>
<rect x="201" y="392" width="3" height="5" fill="#ff0000"/>
<rect x="206" y="392" width="3" height="5" fill="#0000aa"/>
<rect x="210" y="391" width="3" height="6" fill="#0000aa"/>
<rect x="215" y="391" width="3" height="6" fill="#ff0000"/>
<rect x="219" y="391" width="3" height="6" fill="#0000aa"/>
<rect x="224" y="392" width="3" height="5" fill="#ff0000"/>
<rect x="228" y="390" width="3" height="7" fill="#ff0000"/>
<rect x="233" y="391" width="3" height="6" fill="#ff0000"/>
<rect x="237" y="390" width="3" height="7" fill="#0000aa"/>
<rect x="242" y="389" width="3" height="8" fill="#ff0000"/>
<rect x="246" y="388" width="3" height="9" fill="#ff0000"/>
<rect x="251" y="389" width="3" height="8" fill="#0000aa"/>
<rect x="255" y="391" width="3" height="6" fill="#0000aa"/>
<rect x="260" y="390" width="3" height="7" fill="#0000aa"/>
<rect x="264" y="391" width="3" height="6" fill="#0000aa"/>
<rect x="269" y="392" width="3" height="5" fill="#ff0000"/>
<rect x="273" y="391" width="3" height="6" fill="#ff0000"/>
<rect x="278" y="391" width="3" height="6" fill="#0000aa"/>
<rect x="282" y="392" width="3" height="5" fill="#0000aa"/>
<rect x="287" y="392" width="3" height="5" fill="#ff0000"/>
<rect x="291" y="391" width="3" height="6" fill="#0000aa"/>
<rect x="296" y="390" width="3" height="7" fill="#0000aa"/>
<rect x="300" y="391" width="3" height="6" fill="#ff0000"/>
<rect x="305" y="392" width="3" height="5" fill="#0000aa"/>
<rect x="309" y="392" width="3" height="5" fill="#0000aa"/>
<rect x="314" y="391" width="3" height="6" fill="#ff0000"/>
<rect x="318" y="391" width="3" height="6" fill="#0000aa"/>
<rect x="323" y="389" width="3" height="8" fill="#ff0000"/>
<rect x="327" y="391" width="3" height="6" fill="#0000aa"/>
<rect x="332" y="391" width="3" height="6" fill="#0000aa"/>
<rect x="336" y="391" width="3" height="6" fill="#ff0000"/>
<rect x="341" y="391" width="3" height="6" fill="#0000aa"/>
<rect x="345" y="391" width="3" height="6" fill="#0000aa"/>
<rect x="350" y="390" width="3" height="7" fill="#ff0000"/>
<rect x="354" y="381" width="3" height="16" fill="#0000aa"/>
<rect x="359" y="388" width="3" height="9" fill="#ff0000"/>
<rect x="363" y="389" width="3" height="8" fill="#0000aa"/>
<rect x="368" y="391" width="3" height="6" fill="#ff0000"/>
<rect x="372" y="392" width="3" height="5" fill="#0000aa"/>
<rect x="377" y="391" width="3" height="6" fill="#ff0000"/>
<rect x="381" y="392" width="3" height="5" fill="#ff0000"/>
<rect x="386" y="391" width="3" height="6" fill="#ff0000"/>
<rect x="390" y="392" width="3" height="5" fill="#ff0000"/>
<rect x="395" y="392" width="3" height="5" fill="#ff0000"/>
<rect x="399" y="392" width="3" height="5" fill="#0000aa"/>
<rect x="404" y="392" width="3" height="5" fill="#0000aa"/>
<rect x="408" y="392" width="3" height="5" fill="#808080"/>
<rect x="413" y="391" width="3" height="6" fill="#ff0000"/>
<rect x="417" y="390" width="3" height="7" fill="#808080"/>
<rect x="422" y="391" width="3" height="6" fill="#0000aa"/>
<rect x="426" y="390" width="3" height="7" fill="#0000aa"/>
<rect x="431" y="390" width="3" height="7" fill="#0000aa"/>
<rect x="436" y="391" width="3" height="6" fill="#808080"/>
<rect x="440" y="390" width="3" height="7" fill="#0000aa"/>
<rect x="445" y="391" width="3" height="6" fill="#ff0000"/>
<rect x="449" y="391" width="3" height="6" fill="#0000aa"/>
<rect x="454" y="391" width="3" height="6" fill="#ff0000"/>
<rect x="458" y="390" width="3" height="7" fill="#0000aa"/>
<rect x="463" y="391" width="3" height="6" fill="#ff0000"/>
<rect x="467" y="392" width="3" height="5" fill="#0000aa"/>
<rect x="472" y="391" width="3" height="6" fill="#ff0000"/>
<rect x="476" y="392" width="3" height="5" fill="#0000aa"/>
<rect x="481" y="392" width="3" height="5" fill="#ff0000"/>
<rect x="485" y="391" width="3" height="6" fill="#ff0000"/>
<rect x="490" y="391" width="3" height="6" fill="#0000aa"/>
<rect x="494" y="390" width="3" height="7" fill="#0000aa"/>
<rect x="499" y="389" width="3" height="8" fill="#ff0000"/>
<rect x="503" y="391" width="3" height="6" fill="#ff0000"/>
<rect x="508" y="390" width="3" height="7" fill="#0000aa"/>
<rect x="512" y="340" width="3" height="57" fill="#ff0000"/>
<rect x="517" y="369" width="3" height="28" fill="#ff0000"/>
<rect x="521" y="381" width="3" height="16" fill="#0000aa"/>
<rect x="526" y="383" width="3" height="14" fill="#ff0000"/>
<rect x="530" y="384" width="3" height="13" fill="#ff0000"/>
<rect x="535" y="388" width="3" height="9" fill="#0000aa"/>
<rect x="539" y="385" width="3" height="12" fill="#ff0000"/>
<rect x="544" y="385" width="3" height="12" fill="#ff0000"/>
<rect x="548" y="387" width="3" height="10" fill="#0000aa"/>
<rect x="553" y="389" width="3" height="8" fill="#ff0000"/>
<rect x="557" y="388" width="3" height="9" fill="#ff0000"/>
</g>
<rect x="11" y="411" width="568" height="37" fill="#fff"/>
<path d="M11.0 439.3 L22.0 439.0 L24.0 437.8 L45.0 438.2 L46.0 439.3 L48.0 438.3 L60.0 438.8 L62.0 437.6 L70.0 438.6 L95.0 438.0 L100.0 437.8 L115.0 436.8 L130.0 436.3 L138.0 435.6 L148.0 435.6 L152.0 437.3 L160.0 437.6 L166.0 436.3 L172.6 435.3 L180.0 434.3 L187.8 433.5 L188.5 432.5 L189.5 434.0 L197.9 434.0 L202.0 433.0 L203.0 434.0 L206.0 432.5 L207.0 433.8 L210.5 432.8 L212.0 431.8 L214.0 433.0 L233.2 432.3 L236.0 431.3 L239.5 429.5 L241.0 428.5 L243.0 429.7 L250.0 429.2 L258.0 429.0 L262.0 428.4 L263.0 429.7 L266.0 429.7 L273.6 431.0 L286.3 429.7 L293.0 428.2 L296.4 427.2 L299.0 428.0 L305.2 427.7 L306.5 426.0 L307.7 422.7 L308.5 427.0 L309.5 432.3 L311.0 430.4 L314.0 429.0 L318.0 428.4 L320.0 427.7 L322.0 428.6 L324.0 427.7 L326.0 429.0 L330.0 429.7 L332.0 430.6 L335.0 429.2 L340.0 428.5 L346.0 428.8 L352.8 427.7 L355.0 426.0 L357.9 424.0 L360.0 423.0 L364.0 422.2 L370.0 422.4 L373.0 423.4 L378.0 423.2 L383.0 424.0 L386.0 423.2 L386.0 448.0 L11.0 448.0 Z" fill="#eeeeee"/>
<path d="M388.0 424.0 L390.7 424.7 L395.0 424.2 L400.8 424.0 L403.0 425.2 L408.4 426.5 L412.0 427.4 L417.0 427.0 L421.0 427.7 L426.0 427.5 L431.0 428.2 L433.0 429.0 L434.9 431.0 L436.5 429.5 L441.2 428.5 L446.0 428.0 L451.3 427.7 L452.0 427.0 L453.0 428.0 L456.4 429.5 L460.0 428.5 L466.5 427.7 L468.0 427.0 L469.0 428.2 L476.6 429.0 L478.0 428.6 L485.0 428.8 L485.0 448.0 L388.0 448.0 Z" fill="#eeeeee"/>
<path d="M11.0 439.3 L22.0 439.0 L24.0 437.8 L45.0 438.2 L46.0 439.3 L48.0 438.3 L60.0 438.8 L62.0 437.6 L70.0 438.6 L95.0 438.0 L100.0 437.8 L115.0 436.8 L130.0 436.3 L138.0 435.6 L148.0 435.6 L152.0 437.3 L160.0 437.6 L166.0 436.3 L172.6 435.3 L180.0 434.3 L187.8 433.5 L188.5 432.5 L189.5 434.0 L197.9 434.0 L202.0 433.0 L203.0 434.0 L206.0 432.5 L207.0 433.8 L210.5 432.8 L212.0 431.8 L214.0 433.0 L233.2 432.3 L236.0 431.3 L239.5 429.5 L241.0 428.5 L243.0 429.7 L250.0 429.2 L258.0 429.0 L262.0 428.4 L263.0 429.7 L266.0 429.7 L273.6 431.0 L286.3 429.7 L293.0 428.2 L296.4 427.2 L299.0 428.0 L305.2 427.7 L306.5 426.0 L307.7 422.7 L308.5 427.0 L309.5 432.3 L311.0 430.4 L314.0 429.0 L318.0 428.4 L320.0 427.7 L322.0 428.6 L324.0 427.7 L326.0 429.0 L330.0 429.7 L332.0 430.6 L335.0 429.2 L340.0 428.5 L346.0 428.8 L352.8 427.7 L355.0 426.0 L357.9 424.0 L360.0 423.0 L364.0 422.2 L370.0 422.4 L373.0 423.4 L378.0 423.2 L383.0 424.0 L386.0 423.2" fill="none" stroke="#929292" stroke-width="1.5"/>
<path d="M388.0 424.0 L390.7 424.7 L395.0 424.2 L400.8 424.0 L403.0 425.2 L408.4 426.5 L412.0 427.4 L417.0 427.0 L421.0 427.7 L426.0 427.5 L431.0 428.2 L433.0 429.0 L434.9 431.0 L436.5 429.5 L441.2 428.5 L446.0 428.0 L451.3 427.7 L452.0 427.0 L453.0 428.0 L456.4 429.5 L460.0 428.5 L466.5 427.7 L468.0 427.0 L469.0 428.2 L476.6 429.0 L478.0 428.6 L485.0 428.8" fill="none" stroke="#929292" stroke-width="1.5"/>
<path d="M485.0 428.0 L492.0 426.9 L493.0 425.8 L494.0 427.5 L496.0 428.9 L500.0 428.5 L505.0 428.0 L509.8 427.9 L515.0 427.7 L520.0 427.5 L525.8 427.5 L527.8 429.5 L535.0 429.3 L541.7 429.5 L542.7 427.9 L543.5 429.0 L549.7 429.0 L552.0 429.5 L557.6 429.9 L563.0 430.0 L568.6 430.3 L569.6 432.9 L572.0 432.5 L579.0 432.5 L579.0 448.0 L485.0 448.0 Z" fill="#b9c3f7"/>
<path d="M492.0 426.9 L493.0 425.8 L494.0 427.5 L496.0 428.9 L500.0 428.5 L505.0 428.0 L509.8 427.9 L515.0 427.7 L520.0 427.5 L525.8 427.5 L527.8 429.5 L535.0 429.3 L541.7 429.5 L542.7 427.9 L543.5 429.0 L549.7 429.0 L552.0 429.5 L557.6 429.9 L563.0 430.0 L568.6 430.3 L569.6 432.9 L572.0 432.5" fill="none" stroke="#6a6ab8" stroke-width="1.2"/>
<rect x="197" y="435" width="15" height="10" fill="#f4f4f4"/>
<rect x="386" y="435" width="15" height="10" fill="#f4f4f4"/>
<text x="198.5" y="444" font-size="10" fill="#222">24</text>
<text x="387.8" y="444" font-size="10" fill="#222">25</text>
<g shape-rendering="crispEdges">
<rect x="11" y="449" width="568" height="10" fill="url(#tg)"/>
<rect x="492" y="449" width="81" height="10" fill="url(#th)"/>
<rect x="491" y="449" width="1" height="10" fill="#000"/>
<rect x="572" y="449" width="1" height="10" fill="#000"/>
<rect x="579" y="449" width="1" height="10" fill="#000"/>
<rect x="484" y="411" width="1" height="37" fill="#29a3e0"/>
<rect x="579" y="411" width="1" height="37" fill="#29a3e0"/>
</g>
<rect x="478.5" y="415.5" width="13" height="29" fill="url(#hg)" stroke="#000" stroke-width="1" shape-rendering="crispEdges"/>
<rect x="572.5" y="415.5" width="13" height="29" fill="url(#hg)" stroke="#000" stroke-width="1" shape-rendering="crispEdges"/>
<path d="M482.5 429.5 L487 425.5 L487 433.5 Z" fill="#000"/>
<path d="M581.5 429.5 L577 425.5 L577 433.5 Z" fill="#000"/>
<g shape-rendering="crispEdges" fill="#000">
<rect x="10" y="10" width="631" height="1"/>
<rect x="10" y="29" width="631" height="1"/>
<rect x="10" y="10" width="1" height="450"/>
<rect x="640" y="10" width="1" height="450"/>
<rect x="10" y="312" width="631" height="1"/>
<rect x="10" y="325" width="631" height="1"/>
<rect x="10" y="397" width="631" height="1"/>
<rect x="10" y="410" width="631" height="1"/>
<rect x="10" y="448" width="570" height="1"/>
<rect x="10" y="459" width="631" height="1"/>
<rect x="579" y="29" width="1" height="284"/>
<rect x="579" y="325" width="1" height="73"/>
</g>
<text x="13.2" y="25" font-size="12" fill="#222">日付</text>
<text x="41" y="24" font-size="14.4" fill="#1a1a1a" textLength="81.5" lengthAdjust="spacingAndGlyphs">2026/01/09</text>
<text x="158.2" y="25" font-size="12.3" fill="#222">始値</text>
<text x="187.0" y="24.4" font-size="14.8" font-weight="bold" fill="#111" textLength="42.4" lengthAdjust="spacingAndGlyphs">2,010</text>
<text x="250.8" y="25" font-size="12.3" fill="#222">高値</text>
<text x="279.4" y="24.4" font-size="14.8" font-weight="bold" fill="#f00000" textLength="42.4" lengthAdjust="spacingAndGlyphs">2,054</text>
<text x="342.8" y="25" font-size="12.3" fill="#222">安値</text>
<text x="371.3" y="24.4" font-size="14.8" font-weight="bold" fill="#0a700a" textLength="42.4" lengthAdjust="spacingAndGlyphs">2,010</text>
<text x="435" y="25" font-size="12.3" fill="#222">終値</text>
<text x="463.7" y="24.4" font-size="14.8" font-weight="bold" fill="#111" textLength="42.4" lengthAdjust="spacingAndGlyphs">2,029</text>
<text x="582.5" y="95.6" font-size="13.3" fill="#1a1a1a">2400</text>
<text x="582.5" y="149.6" font-size="13.3" fill="#1a1a1a">2200</text>
<text x="582.5" y="202.6" font-size="13.3" fill="#1a1a1a">2000</text>
<text x="582.5" y="256.1" font-size="13.3" fill="#1a1a1a">1800</text>
<text x="582.5" y="309.1" font-size="13.3" fill="#1a1a1a">1600</text>
<text x="582.5" y="343.4" font-size="13.3" fill="#1a1a1a">800</text>
<text x="582.5" y="357.4" font-size="13.3" fill="#1a1a1a">600</text>
<text x="582.5" y="370.4" font-size="13.3" fill="#1a1a1a">400</text>
<text x="582.5" y="384.4" font-size="13.3" fill="#1a1a1a">200</text>
<text x="609.5" y="394.2" font-size="10.5" fill="#333">(</text>
<text x="613.2" y="394.3" font-size="10.4" fill="#333">万株</text>
<text x="634.2" y="394.2" font-size="10.5" fill="#333">)</text>
<text x="80.5" y="322" font-size="10.8" fill="#222">8</text>
<text x="80.5" y="406.6" font-size="10.8" fill="#222">8</text>
<text x="170.5" y="322" font-size="10.8" fill="#222">9</text>
<text x="170.5" y="406.6" font-size="10.8" fill="#222">9</text>
<text x="261.0" y="322" font-size="10.8" fill="#222">10</text>
<text x="261.0" y="406.6" font-size="10.8" fill="#222">10</text>
<text x="360.0" y="322" font-size="10.8" fill="#222">11</text>
<text x="360.0" y="406.6" font-size="10.8" fill="#222">11</text>
<text x="441.0" y="322" font-size="10.8" fill="#222">12</text>
<text x="441.0" y="406.6" font-size="10.8" fill="#222">12</text>
<text x="540.0" y="322" font-size="10.8" fill="#222">26/1</text>
<text x="540.0" y="406.6" font-size="10.8" fill="#222">26/1</text>
<text text-anchor="middle" font-size="13.2" fill="#1a1a1a"><tspan x="58.5" y="60.7">7/25</tspan><tspan x="58.5" y="72.7">2458</tspan></text>
<text text-anchor="middle" font-size="13.2" fill="#1a1a1a"><tspan x="85.2" y="166.6">2153</tspan><tspan x="85.2" y="178.8">8/4</tspan></text>
<text text-anchor="middle" font-size="13.2" fill="#1a1a1a"><tspan x="198.3" y="46.6">9/9</tspan><tspan x="198.3" y="58.8">2509</tspan></text>
<text text-anchor="middle" font-size="13.2" fill="#1a1a1a"><tspan x="247.6" y="48.8">9/26</tspan><tspan x="247.6" y="61.1">2504</tspan></text>
<text text-anchor="middle" font-size="13.2" fill="#1a1a1a"><tspan x="225.5" y="92.0">2436</tspan><tspan x="225.5" y="103.7">9/18</tspan></text>
<text text-anchor="middle" font-size="13.2" fill="#1a1a1a"><tspan x="297.2" y="147.5">2225</tspan><tspan x="297.2" y="159.7">10/14</tspan></text>
<text text-anchor="middle" font-size="13.2" fill="#1a1a1a"><tspan x="327.8" y="76.1">10/23</tspan><tspan x="327.8" y="87.9">2401</tspan></text>
<text text-anchor="middle" font-size="13.2" fill="#1a1a1a"><tspan x="355.0" y="174.1">2126</tspan><tspan x="355.0" y="186.4">10/31</tspan></text>
<text text-anchor="middle" font-size="13.2" fill="#1a1a1a"><tspan x="418.6" y="94.1">11/21</tspan><tspan x="418.6" y="105.9">2334</tspan></text>
<text text-anchor="middle" font-size="13.2" fill="#1a1a1a"><tspan x="476.8" y="124.8">12/11</tspan><tspan x="476.8" y="136.7">2218</tspan></text>
<text text-anchor="middle" font-size="13.2" fill="#1a1a1a"><tspan x="459.5" y="167.9">2150</tspan><tspan x="459.5" y="179.9">12/5</tspan></text>
<text text-anchor="middle" font-size="13.2" fill="#1a1a1a"><tspan x="513.0" y="294.8">1672</tspan><tspan x="513.0" y="307.4">12/23</tspan></text>
<text text-anchor="middle" font-size="13.2" fill="#1a1a1a"><tspan x="558.8" y="167.8">1/9</tspan><tspan x="558.8" y="179.7">2054</tspan></text>
<rect x="10.5" y="269.5" width="108" height="43" fill="#eeeeee" fill-opacity="0.86" stroke="#9a9a9a" stroke-width="1" shape-rendering="crispEdges"/>
<text x="11.8" y="280.4" font-size="12.8" fill="#2c8a2c">MA(5)</text>
<text x="117.3" y="280.4" font-size="12.8" fill="#2c8a2c" text-anchor="end" textLength="52" lengthAdjust="spacing">1,991.40</text>
<text x="11.8" y="294.6" font-size="12.8" fill="#ff2a2a">MA(25)</text>
<text x="117.3" y="294.6" font-size="12.8" fill="#ff2a2a" text-anchor="end" textLength="52" lengthAdjust="spacing">2,051.64</text>
<text x="11.8" y="308.9" font-size="12.8" fill="#2a2aff">MA(75)</text>
<text x="117.3" y="308.9" font-size="12.8" fill="#2a2aff" text-anchor="end" textLength="52" lengthAdjust="spacing">2,221.41</text>
<rect x="10.5" y="325.5" width="108" height="14" fill="#eeeeee" fill-opacity="0.86" stroke="#9a9a9a" stroke-width="1" shape-rendering="crispEdges"/>
<text x="11.9" y="336.2" font-size="11.6" fill="#3a3aa8">出来高</text>
<text x="57.8" y="336" font-size="12.8" fill="#3a3aa8" textLength="48.4" lengthAdjust="spacing">884,400</text>
<text x="106.2" y="336.2" font-size="11.6" fill="#3a3aa8">株</text>
</svg></body></html>
